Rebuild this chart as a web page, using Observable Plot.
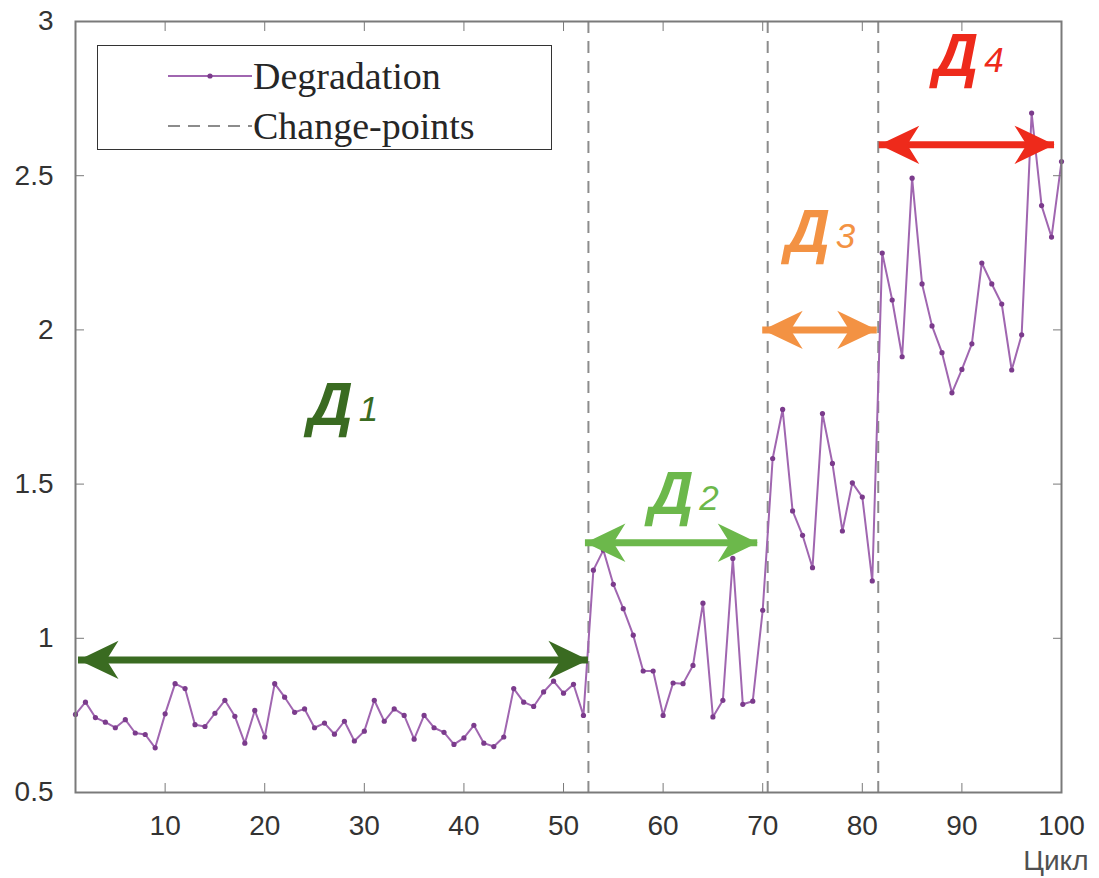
<!DOCTYPE html>
<html><head><meta charset="utf-8">
<script src="https://cdn.jsdelivr.net/npm/d3@7"></script>
<script src="https://cdn.jsdelivr.net/npm/@observablehq/plot@0.6"></script>
<style>
body{margin:0;background:#fff;}
#wrap{position:relative;width:1099px;height:878px;}
#legend{position:absolute;left:97px;top:45px;width:453px;height:103px;border:1.5px solid #333;background:#fff;
  font-family:"Liberation Serif","Times New Roman",serif;font-size:38px;color:#262626;}
#legend .row{position:absolute;left:0;height:40px;}
#legend svg{position:absolute;left:70px;top:10px;}
#legend span{position:absolute;left:155px;top:0;line-height:40px;white-space:nowrap;}
</style></head>
<body>
<div id="wrap"><div id="chart"></div>
<div id="legend">
  <div class="row" style="top:10px"><svg width="86" height="20"><line x1="0" x2="84" y1="10" y2="10" stroke="#a066b0" stroke-width="2"/><circle cx="42" cy="10" r="2.6" fill="#7b3b8c"/></svg><span>Degradation</span></div>
  <div class="row" style="top:60px"><svg width="86" height="20"><line x1="0" x2="84" y1="10" y2="10" stroke="#8c8c8c" stroke-width="2" stroke-dasharray="12,8"/></svg><span>Change-points</span></div>
</div>
</div>
<script>
// ---- data ----
const degradation = [
  0.753,0.793,0.743,0.728,0.710,0.736,0.693,0.688,0.645,0.755,
  0.853,0.837,0.720,0.714,0.757,0.799,0.747,0.660,0.766,0.680,
  0.853,0.809,0.760,0.771,0.710,0.725,0.689,0.731,0.667,0.699,
  0.799,0.731,0.771,0.750,0.673,0.750,0.710,0.695,0.656,0.677,
  0.718,0.660,0.649,0.680,0.837,0.793,0.779,0.826,0.861,0.822,
  0.851,0.750,1.221,1.286,1.175,1.096,1.010,0.894,0.894,0.750,
  0.855,0.853,0.912,1.114,0.745,0.799,1.259,0.786,0.796,1.091,
  1.583,1.742,1.413,1.334,1.229,1.729,1.567,1.348,1.504,1.458,
  1.186,2.249,2.097,1.913,2.492,2.149,2.013,1.926,1.796,1.872,
  1.955,2.217,2.149,2.084,1.870,1.984,2.703,2.403,2.301,2.546
];
const changePoints = [52.5, 70.5, 81.6];
const xTicks = [10,20,30,40,50,60,70,80,90,100];
const yTicks = [0.5,1,1.5,2,2.5,3];

const stageNames  = ["1","2","3","4"];
const stageColors = ["#3a6b21","#6cb84b","#f39243","#ee2a1b"];
const arrowStart  = [1.3, 52.2, 70.0, 81.7];
const arrowEnd    = [52.5, 69.5, 81.5, 99.3];
const arrowLevel  = [0.93, 1.31, 2.00, 2.60];
const labelX      = [26.6, 60.8, 74.5, 89.4];
const labelTop    = [1.835, 1.545, 2.395, 2.965];

// ---- derived tables ----
const data = degradation.map((v,i)=>({cycle:i+1, value:v}));
const stages = stageNames.map((n,i)=>({n, color:stageColors[i], x1:arrowStart[i], x2:arrowEnd[i], y:arrowLevel[i], lx:labelX[i], ly:labelTop[i]}));
const heads = stages.flatMap(s=>[{x:s.x1,y:s.y,color:s.color,rot:180},{x:s.x2,y:s.y,color:s.color,rot:0}]);

// barbed arrowhead pointing right, tip at origin
const arrowHead = {draw(ctx,size){const r=Math.sqrt(size/Math.PI);
  ctx.moveTo(0,0); ctx.lineTo(-r,-0.48*r); ctx.lineTo(-0.7*r,0); ctx.lineTo(-r,0.48*r); ctx.closePath();}};

const tickColor = "#333";
const chart = Plot.plot({
  width:1099, height:878,
  marginLeft:75, marginRight:38, marginTop:21, marginBottom:86,
  style:{fontFamily:"'Liberation Sans', Arial, sans-serif", background:"#fff"},
  x:{domain:[1,100], label:null},
  y:{domain:[0.5,3], label:null},
  color:{type:"identity"},
  marks:[
    Plot.ruleX(changePoints,{stroke:"#8c8c8c", strokeWidth:2, strokeDasharray:"12,8"}),
    Plot.line(data,{x:"cycle", y:"value", stroke:"#a066b0", strokeWidth:2}),
    Plot.dot(data,{x:"cycle", y:"value", r:2.6, fill:"#7b3b8c", stroke:"none"}),
    Plot.ruleY(stages,{y:"y", x1:"x1", x2:"x2", stroke:"color", strokeWidth:7}),
    Plot.dot(heads,{x:"x", y:"y", symbol:arrowHead, r:40, fill:"color", stroke:"none", rotate:"rot"}),
    Plot.text(stages,{x:"lx", y:"ly", text:()=>"Д", fill:"color", fontSize:62, fontWeight:"bold", fontStyle:"italic", lineAnchor:"top"}),
    Plot.text(stages,{x:"lx", y:"ly", text:"n", fill:"color", fontSize:35, fontStyle:"italic", lineAnchor:"top", dx:38, dy:15}),
    Plot.frame({stroke:"#7a7a7a", strokeWidth:2}),
    Plot.axisX(xTicks,{anchor:"bottom", tickSize:-9, tickPadding:32, fontSize:28, fill:tickColor, stroke:"#7a7a7a", label:null}),
    Plot.axisX(xTicks,{anchor:"top", tickSize:-9, tickFormat:()=>"", stroke:"#7a7a7a", label:null}),
    Plot.axisY(yTicks,{anchor:"left", tickSize:-9, tickPadding:31, fontSize:28, fill:tickColor, stroke:"#7a7a7a", tickFormat:d=>String(d), label:null}),
    Plot.axisY(yTicks,{anchor:"right", tickSize:-9, tickFormat:()=>"", stroke:"#7a7a7a", label:null}),
    Plot.text(["Цикл"],{frameAnchor:"bottom-right", text:d=>d, textAnchor:"end", lineAnchor:"bottom", dx:27, dy:77, fontSize:28, fill:"#505050"})
  ]
});
document.getElementById("chart").appendChild(chart);
</script>
</body></html>
